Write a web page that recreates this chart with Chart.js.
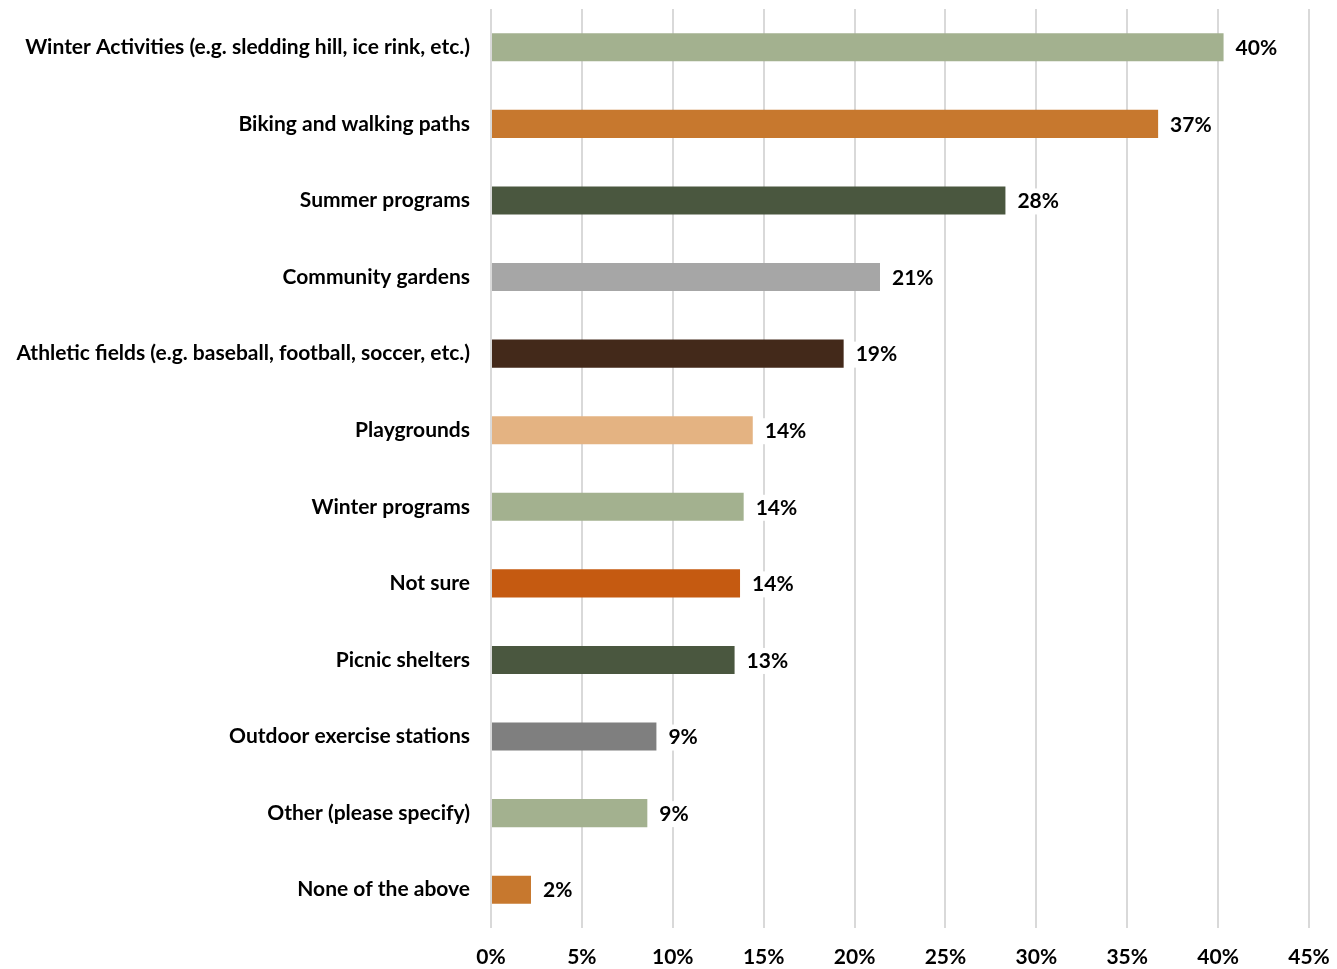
<!DOCTYPE html>
<html><head><meta charset="utf-8">
<script src="https://cdn.jsdelivr.net/npm/chart.js@4/dist/chart.umd.min.js"></script>
<style>html,body{margin:0;padding:0;background:#fff}#wrap{width:1337px;height:969px}</style>
</head><body><div id="wrap"><canvas id="c" width="1337" height="969"></canvas></div>
<script>
const categories = [
  "Winter Activities (e.g. sledding hill, ice rink, etc.)",
  "Biking and walking paths",
  "Summer programs",
  "Community gardens",
  "Athletic fields (e.g. baseball, football, soccer, etc.)",
  "Playgrounds",
  "Winter programs",
  "Not sure",
  "Picnic shelters",
  "Outdoor exercise stations",
  "Other (please specify)",
  "None of the above"
];
const values = [40.3, 36.7, 28.3, 21.4, 19.4, 14.4, 13.9, 13.7, 13.4, 9.1, 8.6, 2.2];
const barColors = ["#A3B18F","#C7782E","#4A573F","#A6A6A6","#43291A","#E4B382","#A3B18F","#C55A11","#4A573F","#7F7F7F","#A3B18F","#C7782E"];
const xTicks = [0,5,10,15,20,25,30,35,40,45];

const FONT = "Lato";
const FS = 21;
const labelPlugin = {
  id: 'valLabels',
  afterDatasetsDraw(chart) {
    const ctx = chart.ctx;
    const meta = chart.getDatasetMeta(0);
    ctx.save();
    ctx.font = "bold " + FS + "px " + FONT;
    ctx.textBaseline = 'middle';
    ctx.textAlign = 'left';
    meta.data.forEach((bar, i) => {
      const txt = Math.round(values[i]) + '%';
      const x = bar.x + 12, y = bar.y + 1;
      const w = ctx.measureText(txt).width;
      ctx.fillStyle = '#fff';
      ctx.fillRect(x - 4, y - 13, w + 8, 26);
      ctx.fillStyle = '#000';
      ctx.fillText(txt, x, y);
    });
    ctx.restore();
  }
};

new Chart(document.getElementById('c'), {
  type: 'bar',
  data: { labels: categories, datasets: [{ data: values, backgroundColor: barColors, barPercentage: 0.366, categoryPercentage: 1 }] },
  options: {
    indexAxis: 'y', responsive: false, animation: false,
    layout: { padding: { top: 9, right: 28, left: 0, bottom: 0 } },
    plugins: { legend: { display: false }, tooltip: { enabled: false } },
    scales: {
      x: {
        min: 0, max: 45,
        afterBuildTicks(s) { s.ticks = xTicks.map(v => ({ value: v })); },
        afterFit(s) { s.height = 41; s.paddingLeft = 0; s.paddingRight = 0; },
        grid: { color: '#D9D9D9', lineWidth: 2, drawTicks: false },
        border: { display: false },
        ticks: { padding: 17, color: '#000', font: { family: FONT, size: FS, weight: 'bold' }, callback: v => v + '%' }
      },
      y: {
        afterFit(s) { s.width = 491; s.paddingTop = 0; s.paddingBottom = 0; },
        grid: { display: false, drawTicks: false },
        border: { display: false },
        ticks: { padding: 21, color: '#000', font: { family: FONT, size: FS, weight: 'bold' } }
      }
    }
  },
  plugins: [labelPlugin]
});
</script></body></html>
